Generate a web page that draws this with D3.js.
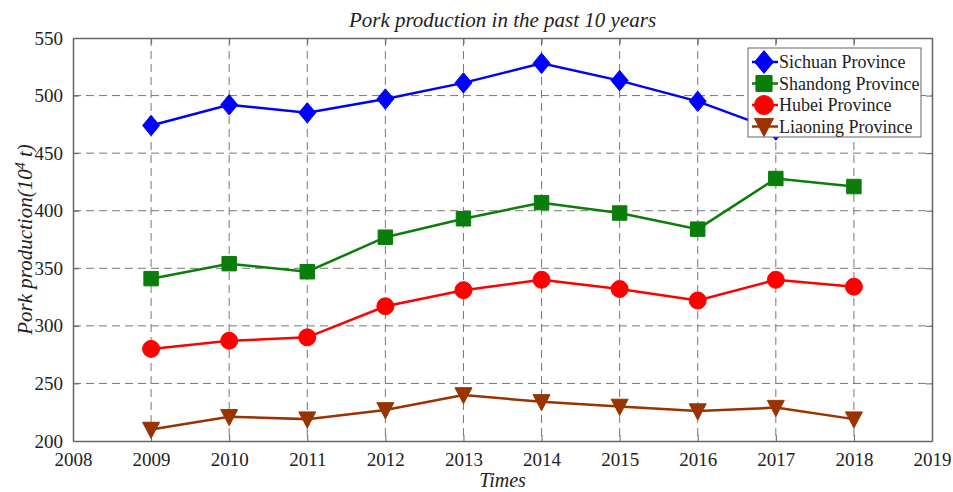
<!DOCTYPE html>
<html>
<head>
<meta charset="utf-8">
<script src="https://cdn.jsdelivr.net/npm/d3@7"></script>
<style>
  html, body { margin: 0; padding: 0; background: #fff; }
  svg { display: block; }
  svg text { font-family: "Liberation Serif", "Times New Roman", Times, "DejaVu Serif", "Noto Serif", serif !important; fill: #222; }
</style>
</head>
<body>
<svg id="chart" width="953" height="492"></svg>
<script>
// Pork production by province, 2009–2018 (unit: 10^4 t)
const years = [2009, 2010, 2011, 2012, 2013, 2014, 2015, 2016, 2017, 2018];
const sichuan  = [474, 492, 485, 497, 511, 528, 513, 495, 470, 476];
const shandong = [341, 354, 347, 377, 393, 407, 398, 384, 428, 421];
const hubei    = [280, 287, 290, 317, 331, 340, 332, 322, 340, 334];
const liaoning = [210, 221, 219, 227, 240, 234, 230, 226, 229, 219];
const seriesNames = ["Sichuan Province", "Shandong Province", "Hubei Province", "Liaoning Province"];
const xTicks = [2008, 2009, 2010, 2011, 2012, 2013, 2014, 2015, 2016, 2017, 2018, 2019];
const yTicks = [200, 250, 300, 350, 400, 450, 500, 550];

const series = [
  { name: seriesNames[0], values: sichuan,  color: "#0000ff", symbol: "diamond" },
  { name: seriesNames[1], values: shandong, color: "#0a7d0a", symbol: "square" },
  { name: seriesNames[2], values: hubei,    color: "#ff0000", symbol: "circle" },
  { name: seriesNames[3], values: liaoning, color: "#993300", symbol: "triangle" }
];

const svg = d3.select("#chart");
const m = { left: 73, right: 932, top: 38, bottom: 441 };

const x = d3.scaleLinear().domain([2008, 2019]).range([m.left, m.right]);
const y = d3.scaleLinear().domain([200, 550]).range([m.bottom, m.top]);

// dashed grid
const grid = svg.append("g").attr("stroke", "#777").attr("stroke-width", 1)
  .attr("stroke-dasharray", "8,5");
grid.selectAll(".gx").data(xTicks.slice(1, -1)).join("line")
  .attr("x1", d => x(d)).attr("x2", d => x(d))
  .attr("y1", m.top).attr("y2", m.bottom);
grid.selectAll(".gy").data(yTicks.slice(1, -1)).join("line")
  .attr("y1", d => y(d)).attr("y2", d => y(d))
  .attr("x1", m.left).attr("x2", m.right);

// axes with inward ticks
const axisColor = "#666";
const xAxis = svg.append("g").attr("transform", `translate(0,${m.bottom})`)
  .call(d3.axisBottom(x).tickValues(xTicks).tickFormat(d3.format("d")).tickSizeInner(-6).tickSizeOuter(0).tickPadding(12));
const xAxisTop = svg.append("g").attr("transform", `translate(0,${m.top})`)
  .call(d3.axisTop(x).tickValues(xTicks).tickFormat("").tickSizeInner(-6).tickSizeOuter(0));
const yAxis = svg.append("g").attr("transform", `translate(${m.left},0)`)
  .call(d3.axisLeft(y).tickValues(yTicks).tickSizeInner(-6).tickSizeOuter(0).tickPadding(10));
const yAxisRight = svg.append("g").attr("transform", `translate(${m.right},0)`)
  .call(d3.axisRight(y).tickValues(yTicks).tickFormat("").tickSizeInner(-6).tickSizeOuter(0));

[xAxis, xAxisTop, yAxis, yAxisRight].forEach(a => {
  a.attr("font-family", null);
  a.select(".domain").attr("stroke", axisColor).attr("stroke-width", 1.5);
  a.selectAll(".tick line").attr("stroke", axisColor);
  a.selectAll(".tick text").attr("font-size", 19).attr("fill", "#222");
});

// marker symbol paths
function markerPath(symbol, s) {
  if (symbol === "diamond") return `M0,${-s * 1.2}L${s},0L0,${s * 1.2}L${-s},0Z`;
  if (symbol === "square") return `M${-s * 0.85},${-s * 0.85}h${s * 1.7}v${s * 1.7}h${-s * 1.7}Z`;
  if (symbol === "circle") return d3.symbol(d3.symbolCircle, Math.PI * s * s)();
  if (symbol === "triangle") return `M${-s},${-s * 0.85}L${s},${-s * 0.85}L0,${s * 1.05}Z`;
}

const line = d3.line().x((d, i) => x(years[i])).y(d => y(d));

series.forEach(sr => {
  const g = svg.append("g");
  g.append("path").datum(sr.values).attr("d", line)
    .attr("fill", "none").attr("stroke", sr.color).attr("stroke-width", 2.5);
  g.selectAll("path.mk").data(sr.values).join("path").attr("class", "mk")
    .attr("transform", (d, i) => `translate(${x(years[i])},${y(d)})`)
    .attr("d", markerPath(sr.symbol, 8.5))
    .attr("fill", sr.color).attr("stroke", sr.color).attr("stroke-width", 1);
});

// legend
const lg = svg.append("g").attr("transform", "translate(748,48)");
lg.append("rect").attr("width", 173).attr("height", 89)
  .attr("fill", "#fff").attr("stroke", "#666").attr("stroke-width", 1);
series.forEach((sr, i) => {
  const row = lg.append("g").attr("transform", `translate(0,${14 + i * 21.5})`);
  row.append("line").attr("x1", 4).attr("x2", 30).attr("y1", 0).attr("y2", 0)
    .attr("stroke", sr.color).attr("stroke-width", 2.5);
  row.append("path").attr("transform", "translate(16,0)")
    .attr("d", markerPath(sr.symbol, 9.5)).attr("fill", sr.color).attr("stroke", sr.color);
  row.append("text").attr("x", 31).attr("y", 6).attr("font-size", 18).text(sr.name);
});

// title and axis labels
svg.append("text").attr("x", (m.left + m.right) / 2).attr("y", 27)
  .attr("text-anchor", "middle").attr("font-style", "italic").attr("font-size", 21)
  .text("Pork production in the past 10 years");
svg.append("text").attr("x", (m.left + m.right) / 2).attr("y", 487)
  .attr("text-anchor", "middle").attr("font-style", "italic").attr("font-size", 20)
  .text("Times");
const yl = svg.append("text")
  .attr("transform", `translate(32,${(m.top + m.bottom) / 2}) rotate(-90)`)
  .attr("text-anchor", "middle").attr("font-style", "italic").attr("font-size", 21);
yl.append("tspan").text("Pork production(10");
yl.append("tspan").attr("dy", -7).attr("font-size", 14).text("4");
yl.append("tspan").attr("dy", 7).text(" t)");
</script>
</body>
</html>
